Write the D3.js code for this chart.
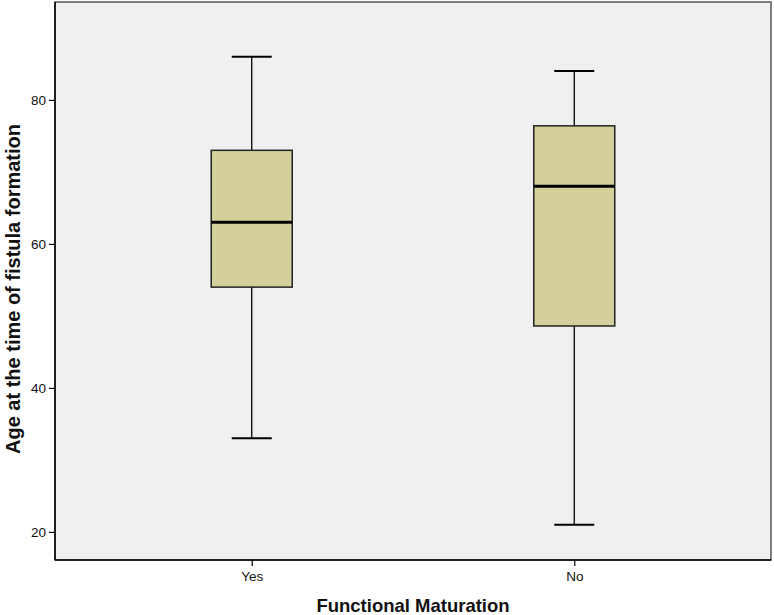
<!DOCTYPE html>
<html>
<head>
<meta charset="utf-8">
<script src="https://cdn.jsdelivr.net/npm/d3@7"></script>
<style>
  body { margin: 0; background: #fff; }
  text { font-family: "Liberation Sans", Arial, sans-serif; }
</style>
</head>
<body>
<svg id="chart" width="774" height="615"></svg>
<script>
// box plot values
const categories = ["Yes", "No"];
const whiskerLow = [33, 21];
const q1 = [54, 48.6];
const median = [63, 68];
const q3 = [73, 76.4];
const whiskerHigh = [86, 84];
const yTicks = [20, 40, 60, 80];

const margin = {top: 2, right: 3, bottom: 55, left: 55};
const width = 774, height = 615;

const svg = d3.select("#chart");

const x = d3.scalePoint()
    .domain(categories)
    .range([margin.left, width - margin.right])
    .padding(0.61);

const y = d3.scaleLinear()
    .domain([16.1, 93.6])
    .range([height - margin.bottom, margin.top]);

const boxW = 81;
const capW = 40;

// plot background + frame
svg.append("rect")
    .attr("x", margin.left)
    .attr("y", margin.top)
    .attr("width", width - margin.right - margin.left)
    .attr("height", height - margin.bottom - margin.top)
    .attr("fill", "#f0f0f0")
    .attr("stroke", "#555")
    .attr("stroke-width", 1.5);

// axes
const yAxis = svg.append("g")
    .attr("transform", `translate(${margin.left},0)`)
    .call(d3.axisLeft(y).tickValues(yTicks).tickSize(6).tickPadding(3));

const xAxis = svg.append("g")
    .attr("transform", `translate(0,${height - margin.bottom})`)
    .call(d3.axisBottom(x).tickSize(6).tickPadding(5));

[yAxis, xAxis].forEach(a => {
    a.select(".domain").attr("stroke", "#000").attr("stroke-width", 1.5);
    a.selectAll(".tick line").attr("stroke", "#000").attr("stroke-width", 1.2);
    a.selectAll(".tick text")
        .attr("font-size", 13.5)
        .attr("fill", "#111")
        .style("font-family", "'Liberation Sans', Arial, sans-serif");
});
yAxis.select(".domain").attr("d", `M0,${margin.top}V${height - margin.bottom}`);
xAxis.select(".domain").attr("d", `M${margin.left},0H${width - margin.right}`);

// boxes
const data = categories.map((c, i) => ({
    cat: c, lo: whiskerLow[i], q1: q1[i], med: median[i], q3: q3[i], hi: whiskerHigh[i]
}));

const g = svg.selectAll(".box")
    .data(data)
    .join("g")
    .attr("class", "box")
    .attr("transform", d => `translate(${x(d.cat)},0)`);

// whiskers
g.append("line")
    .attr("x1", 0).attr("x2", 0)
    .attr("y1", d => y(d.hi)).attr("y2", d => y(d.q3))
    .attr("stroke", "#000").attr("stroke-width", 1.3);
g.append("line")
    .attr("x1", 0).attr("x2", 0)
    .attr("y1", d => y(d.q1)).attr("y2", d => y(d.lo))
    .attr("stroke", "#000").attr("stroke-width", 1.3);

// caps
g.append("line")
    .attr("x1", -capW / 2).attr("x2", capW / 2)
    .attr("y1", d => y(d.hi)).attr("y2", d => y(d.hi))
    .attr("stroke", "#000").attr("stroke-width", 2);
g.append("line")
    .attr("x1", -capW / 2).attr("x2", capW / 2)
    .attr("y1", d => y(d.lo)).attr("y2", d => y(d.lo))
    .attr("stroke", "#000").attr("stroke-width", 2);

g.append("rect")
    .attr("x", -boxW / 2)
    .attr("width", boxW)
    .attr("y", d => y(d.q3))
    .attr("height", d => y(d.q1) - y(d.q3))
    .attr("fill", "#d4d09b")
    .attr("stroke", "#222")
    .attr("stroke-width", 1.5);

g.append("line")
    .attr("x1", -boxW / 2).attr("x2", boxW / 2)
    .attr("y1", d => y(d.med)).attr("y2", d => y(d.med))
    .attr("stroke", "#000").attr("stroke-width", 3);

// axis titles
svg.append("text")
    .attr("x", 413)
    .attr("y", 612)
    .attr("text-anchor", "middle")
    .attr("font-size", 18.5)
    .attr("font-weight", "bold")
    .attr("fill", "#111")
    .text("Functional Maturation");

svg.append("text")
    .attr("transform", `translate(20,289) rotate(-90)`)
    .attr("text-anchor", "middle")
    .attr("font-size", 20)
    .attr("font-weight", "bold")
    .attr("fill", "#111")
    .text("Age at the time of fistula formation");
</script>
</body>
</html>
